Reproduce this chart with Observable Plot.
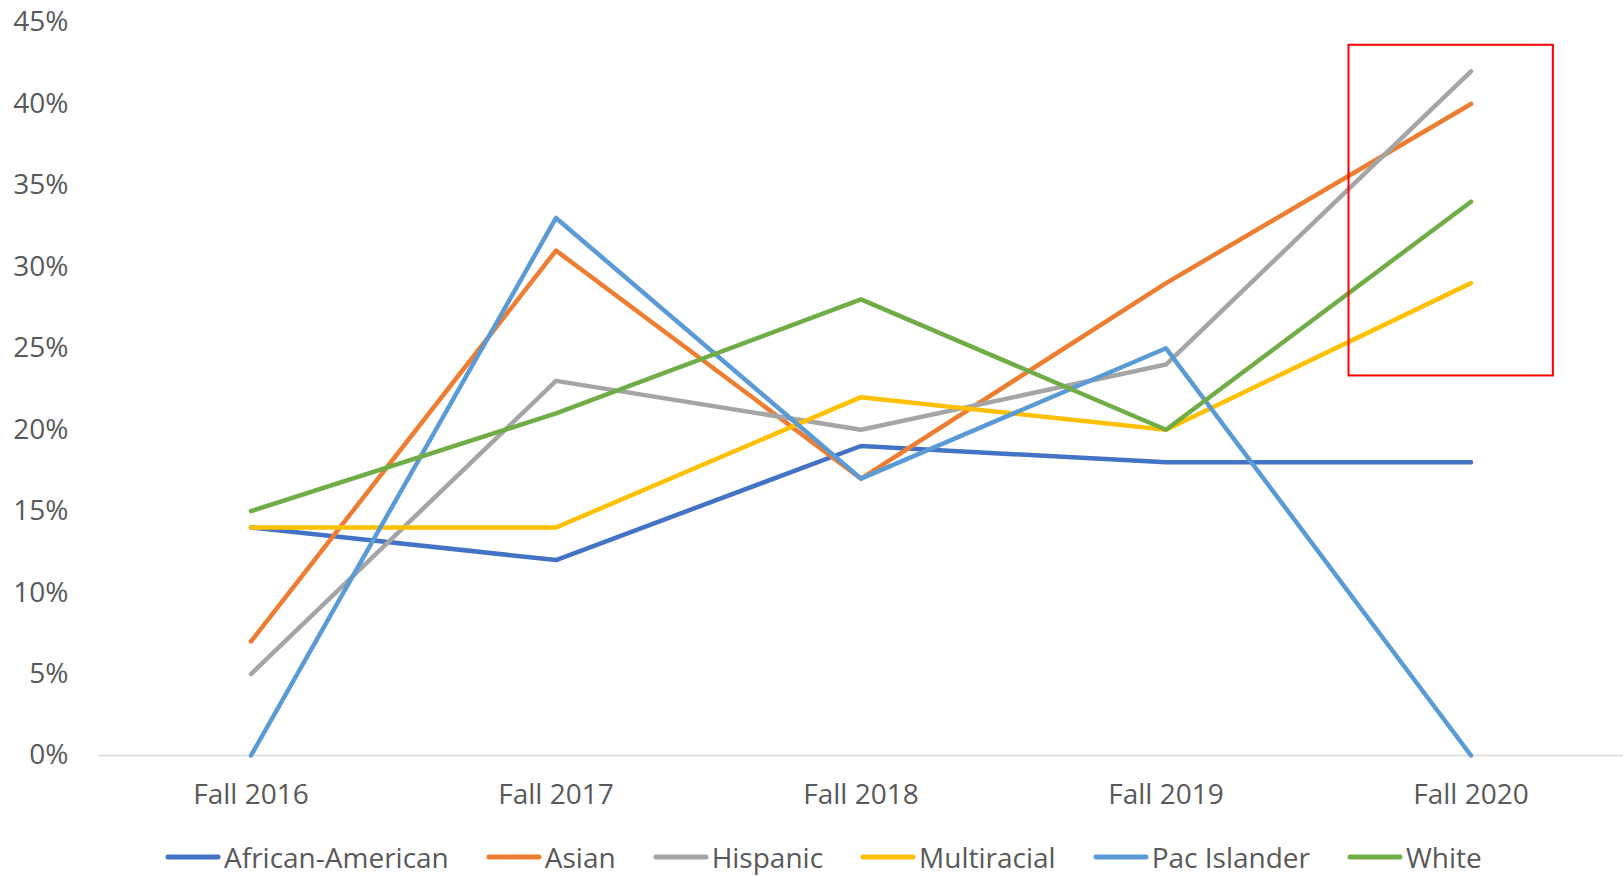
<!DOCTYPE html>
<html>
<head>
<meta charset="utf-8">
<script src="https://cdn.jsdelivr.net/npm/d3@7"></script>
<script src="https://cdn.jsdelivr.net/npm/@observablehq/plot@0.6"></script>
<style>
  html, body { margin: 0; padding: 0; background: #fff; }
  #wrap { position: relative; width: 1623px; height: 876px; font-family: "Open Sans", sans-serif; }
  #legend { position: absolute; left: 165px; top: 838px; display: flex; align-items: center; gap: 37px; font-size: 28px; color: #595959; }
  .item { display: flex; align-items: center; gap: 3px; }
</style>
</head>
<body>
<div id="wrap"><div id="chart"></div><div id="legend"></div></div>
<script>
const categories = ["Fall 2016", "Fall 2017", "Fall 2018", "Fall 2019", "Fall 2020"];
const seriesNames = ["African-American", "Asian", "Hispanic", "Multiracial", "Pac Islander", "White"];
const colors = ["#4472C4", "#ED7D31", "#A5A5A5", "#FFC000", "#5B9BD5", "#70AD47"];
const africanAmerican = [14, 12, 19, 18, 18];
const asian = [7, 31, 17, 29, 40];
const hispanic = [5, 23, 20, 24, 42];
const multiracial = [14, 14, 22, 20, 29];
const pacIslander = [0, 33, 17, 25, 0];
const white = [15, 21, 28, 20, 34];
const yTicks = [0, 5, 10, 15, 20, 25, 30, 35, 40, 45];
// highlight box around the last period (x in category-index units, y in %)
const highlight = [{x1: 3.6, x2: 4.27, y1: 23.3, y2: 43.6}];

const seriesValues = [africanAmerican, asian, hispanic, multiracial, pacIslander, white];
const data = seriesNames.flatMap((s, si) => seriesValues[si].map((v, i) => ({series: s, i, value: v})));

const chart = Plot.plot({
  width: 1623,
  height: 820,
  marginTop: 22,
  marginBottom: 65,
  marginLeft: 98,
  marginRight: 0,
  style: {fontFamily: "'Open Sans', sans-serif", fontSize: "28px", color: "#595959", background: "#fff"},
  x: {domain: [-0.5, 4.5], ticks: d3.range(categories.length), tickFormat: i => categories[i], tickSize: 0, tickPadding: 29, label: null},
  y: {domain: [0, 45], ticks: yTicks, tickFormat: d => d + "%", tickSize: 0, tickPadding: 30, label: null},
  marks: [
    Plot.ruleY([0], {stroke: "#D9D9D9", strokeWidth: 1.5}),
    ...seriesNames.map((s, si) => Plot.line(data.filter(d => d.series === s), {
      x: "i", y: "value", stroke: colors[si], strokeWidth: 4.5, strokeLinecap: "round", strokeLinejoin: "round"
    })),
    Plot.rect(highlight, {x1: "x1", x2: "x2", y1: "y1", y2: "y2", fill: "none", stroke: "#FF0000", strokeWidth: 2})
  ]
});
document.getElementById("chart").appendChild(chart);

const legend = document.getElementById("legend");
seriesNames.forEach((s, i) => {
  const item = document.createElement("div");
  item.className = "item";
  item.innerHTML = `<svg width="56" height="10"><line x1="3" y1="5" x2="53" y2="5" stroke="${colors[i]}" stroke-width="5" stroke-linecap="round"/></svg><span>${s}</span>`;
  legend.appendChild(item);
});
</script>
</body>
</html>
